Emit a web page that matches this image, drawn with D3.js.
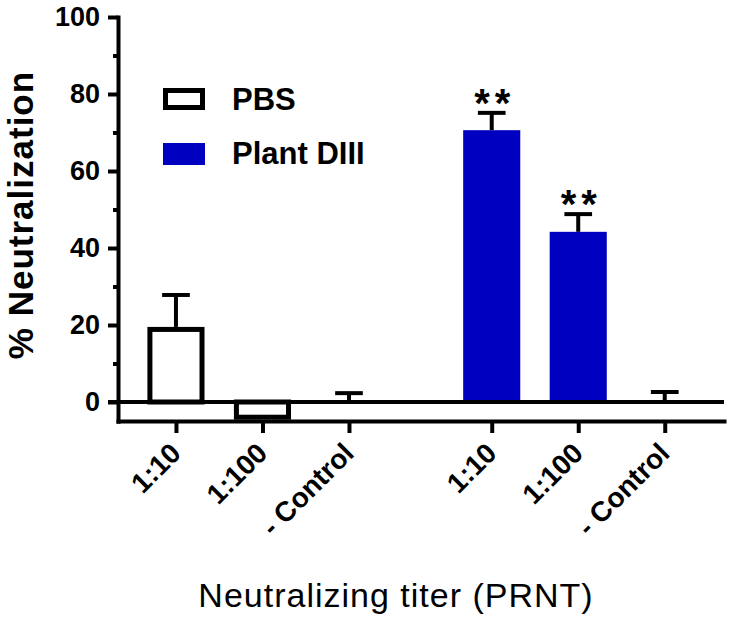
<!DOCTYPE html>
<html>
<head>
<meta charset="utf-8">
<script src="https://cdn.jsdelivr.net/npm/d3@7"></script>
<style>
  html, body { margin: 0; padding: 0; background: #fff; }
  svg { display: block; font-family: "Liberation Sans", Arial, Helvetica, sans-serif; }
</style>
</head>
<body>
<svg id="chart" width="732" height="624"></svg>
<script>
// ---- Data ----
const groups = ["PBS", "Plant DIII"];
const categories = ["1:10", "1:100", "- Control"];
const pbsMeans = [19.5, -4.6, 0];
const pbsErrors = [8.3, null, 2.3];
const plantMeans = [70.6, 44.2, 0];
const plantErrors = [4.5, 4.6, 2.6];
const plantSignif = ["**", "**", ""];
const yTicks = [0, 20, 40, 60, 80, 100];
const yMinorTicks = [10, 30, 50, 70, 90];
const xTitle = "Neutralizing titer (PRNT)";
const yTitle = "% Neutralization";

// ---- Layout ----
const blue = "#0000c0";
const groupGap = 0.65;
const svg = d3.select("#chart");
svg.append("rect").attr("width", 732).attr("height", 624).attr("fill", "#fff");

const rows = [];
[pbsMeans, plantMeans].forEach((means, gi) => {
  const errs = gi === 0 ? pbsErrors : plantErrors;
  means.forEach((m, ci) => {
    rows.push({
      group: groups[gi], gi, ci, cat: categories[ci],
      slot: gi * (categories.length + groupGap) + ci,
      mean: m, err: errs[ci],
      sig: gi === 1 ? plantSignif[ci] : ""
    });
  });
});

const x = d3.scaleLinear().domain([-0.67, 6.335]).range([118, 724]);
const y = d3.scaleLinear().domain([-5, 100]).range([421.25, 17]);
const slotW = x(1) - x(0);
const barW = slotW * 0.66;
const capW = slotW * 0.32;
const bw = 5; // border width

// ---- Bars ----
const g = svg.append("g");
rows.filter(d => d.gi === 1 && d.mean !== 0).forEach(d => {
  g.append("rect")
    .attr("x", x(d.slot) - barW / 2)
    .attr("y", Math.min(y(d.mean), y(0)))
    .attr("width", barW)
    .attr("height", Math.abs(y(d.mean) - y(0)))
    .attr("fill", blue);
});
rows.filter(d => d.gi === 0 && d.mean !== 0).forEach(d => {
  const top = d.mean > 0 ? y(d.mean) + bw / 2 : y(0);
  const bot = d.mean > 0 ? y(0) : y(d.mean) - bw / 2;
  g.append("rect")
    .attr("x", x(d.slot) - barW / 2 + bw / 2)
    .attr("y", top)
    .attr("width", barW - bw)
    .attr("height", bot - top)
    .attr("fill", "#fff")
    .attr("stroke", "#000")
    .attr("stroke-width", bw);
});

// ---- Error bars ----
rows.filter(d => d.err != null).forEach(d => {
  const y0 = y(d.mean), y1 = y(d.mean + d.err);
  g.append("line")
    .attr("x1", x(d.slot)).attr("x2", x(d.slot))
    .attr("y1", y0).attr("y2", y1)
    .attr("stroke", "#000").attr("stroke-width", 4);
  g.append("line")
    .attr("x1", x(d.slot) - capW / 2).attr("x2", x(d.slot) + capW / 2)
    .attr("y1", y1).attr("y2", y1)
    .attr("stroke", "#000").attr("stroke-width", 4);
});

// ---- Significance ----
rows.filter(d => d.sig).forEach(d => {
  g.append("text")
    .attr("x", x(d.slot) + 3)
    .attr("y", y(d.mean + d.err) + 4)
    .attr("text-anchor", "middle")
    .attr("font-size", 40)
    .attr("font-weight", "bold")
    .attr("letter-spacing", 5)
    .text(d.sig);
});

// ---- Axes ----
function styleAxis(sel) {
  sel.selectAll("path.domain").attr("stroke", "#000").attr("stroke-width", 4).attr("stroke-linecap", "square");
  sel.selectAll(".tick line").attr("stroke", "#000").attr("stroke-width", 4);
}
const yAxis = svg.append("g").attr("transform", "translate(118,0)")
  .call(d3.axisLeft(y).tickValues(yTicks).tickSize(10).tickSizeOuter(0).tickPadding(8).tickFormat(d3.format("d")));
styleAxis(yAxis);
yAxis.selectAll("text").attr("font-size", 27).attr("font-weight", "bold").attr("fill", "#000")
  .attr("font-family", "'Liberation Sans', Arial, sans-serif");

const yMinor = svg.append("g").attr("transform", "translate(118,0)")
  .call(d3.axisLeft(y).tickValues(yMinorTicks).tickSize(5).tickSizeOuter(0).tickFormat(""));
yMinor.select("path.domain").remove();
styleAxis(yMinor);

// zero line
svg.append("line")
  .attr("x1", 108).attr("x2", x.range()[1])
  .attr("y1", y(0)).attr("y2", y(0))
  .attr("stroke", "#000").attr("stroke-width", 4);

const xAxis = svg.append("g").attr("transform", `translate(0,${y(-5) - 0.25})`)
  .call(d3.axisBottom(x).tickValues(rows.map(d => d.slot)).tickSize(12).tickSizeOuter(0)
    .tickFormat((d, i) => rows[i].cat));
styleAxis(xAxis);
xAxis.selectAll("text")
  .attr("font-size", 28).attr("font-weight", "bold").attr("fill", "#000")
  .attr("font-family", "'Liberation Sans', Arial, sans-serif")
  .attr("text-anchor", "end")
  .attr("x", 0).attr("y", 0).attr("dy", 0)
  .attr("transform", "translate(6,34) rotate(-45)");

// ---- Titles ----
svg.append("text")
  .attr("x", 396).attr("y", 607)
  .attr("text-anchor", "middle")
  .attr("font-size", 34)
  .attr("letter-spacing", 1)
  .text(xTitle);

svg.append("text")
  .attr("transform", "translate(33,215) rotate(-90)")
  .attr("text-anchor", "middle")
  .attr("font-size", 35)
  .attr("font-weight", "bold")
  .attr("letter-spacing", 1)
  .text(yTitle);

// ---- Legend ----
const leg = svg.append("g");
leg.append("rect").attr("x", 165.5).attr("y", 90.5).attr("width", 37).attr("height", 17)
  .attr("fill", "#fff").attr("stroke", "#000").attr("stroke-width", bw);
leg.append("rect").attr("x", 163).attr("y", 143).attr("width", 42).attr("height", 22)
  .attr("fill", blue);
leg.append("text").attr("x", 232).attr("y", 110).attr("font-size", 31).attr("font-weight", "bold").text(groups[0]);
leg.append("text").attr("x", 232).attr("y", 164).attr("font-size", 31).attr("font-weight", "bold").text(groups[1]);
</script>
</body>
</html>
